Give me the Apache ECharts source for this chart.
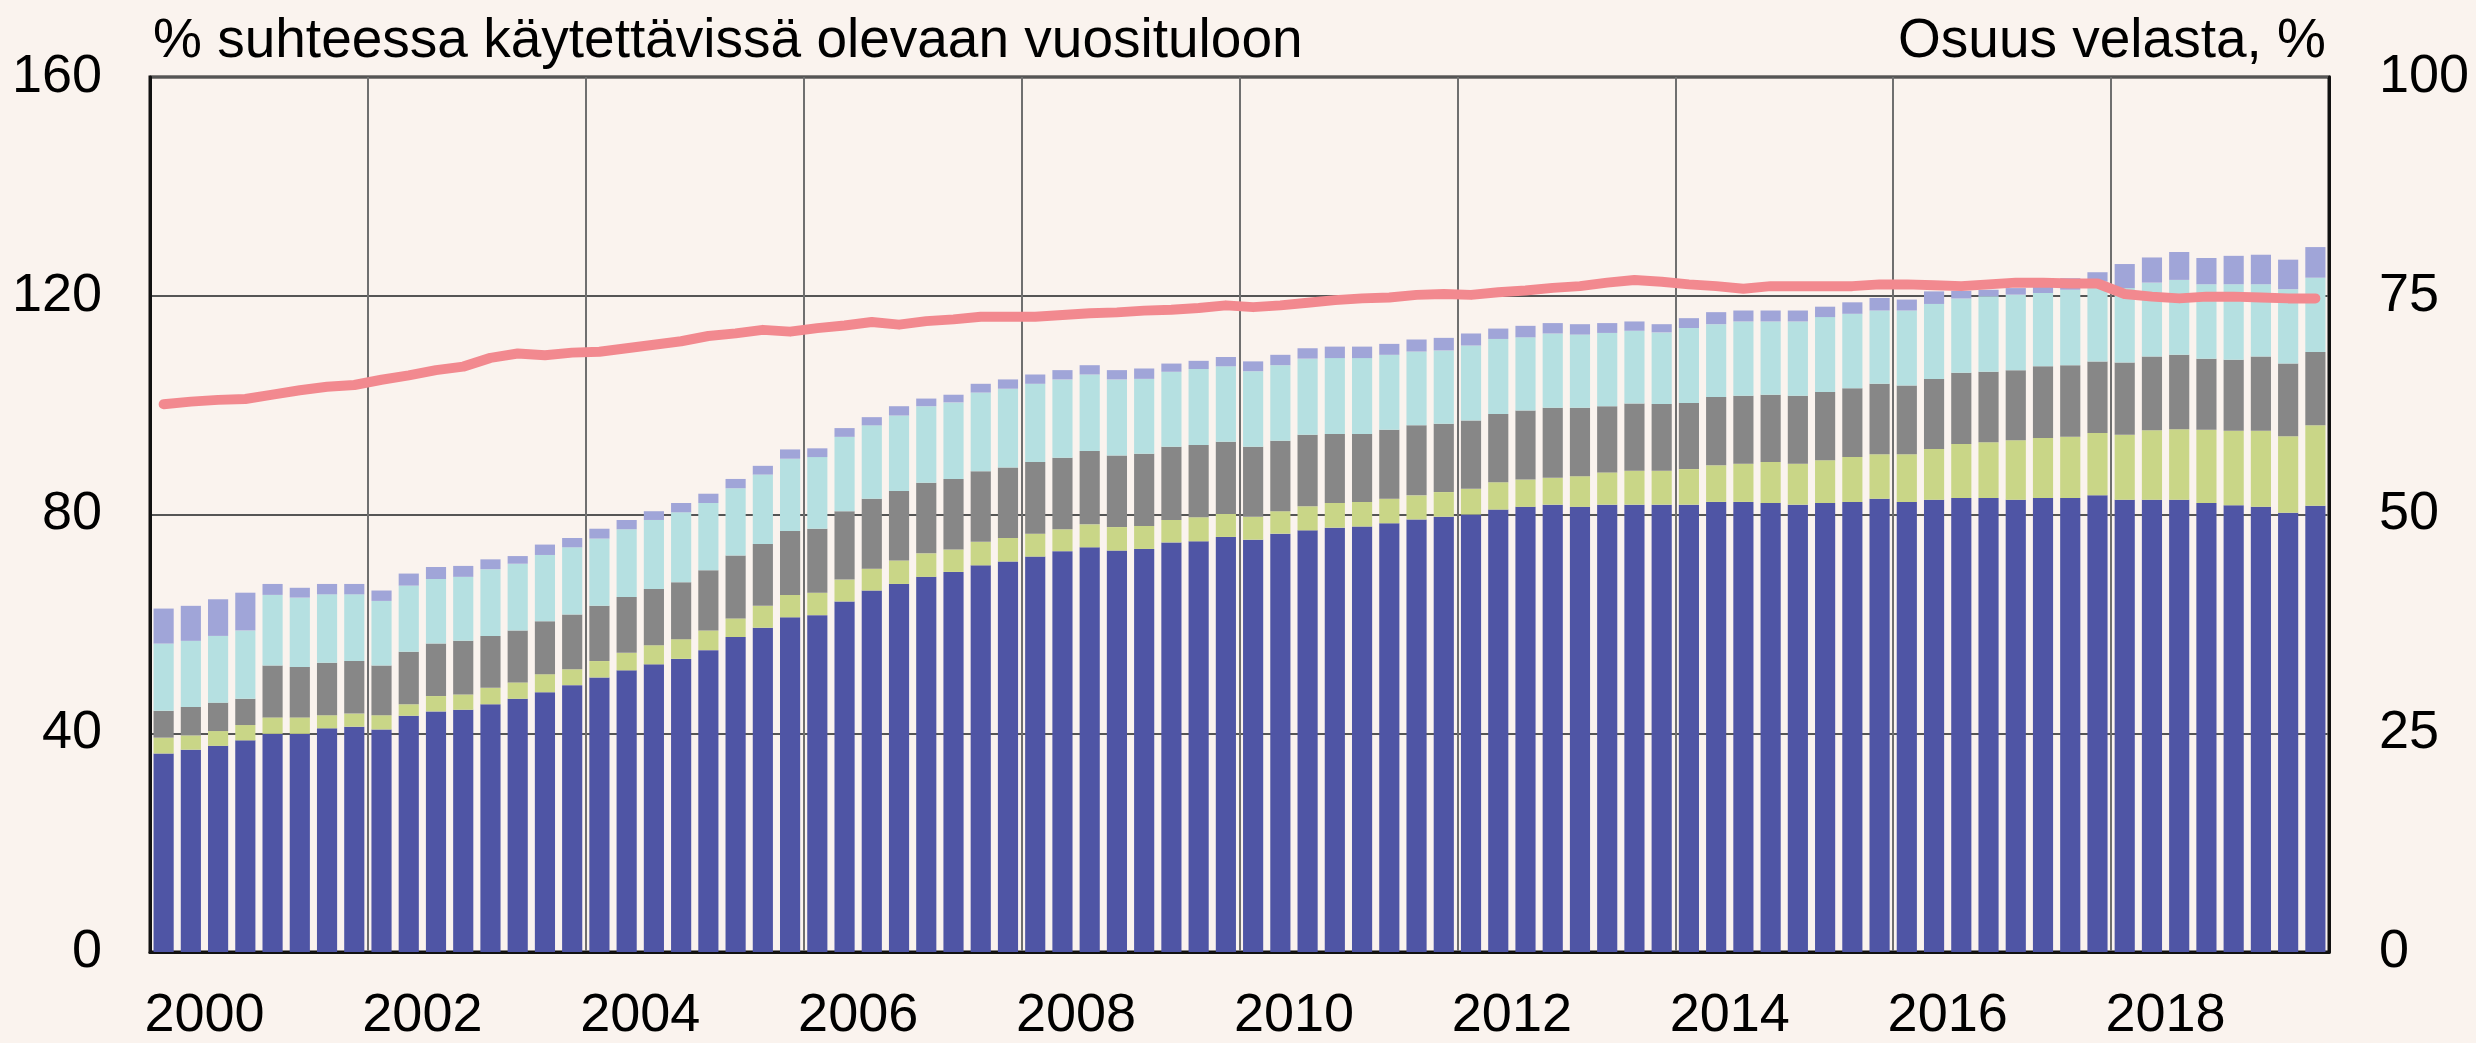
<!DOCTYPE html>
<html>
<head>
<meta charset="utf-8">
<script src="https://cdn.jsdelivr.net/npm/echarts@6/dist/echarts.min.js"></script>
<style>
  html, body { margin: 0; padding: 0; background: #faf3ee; }
  #chart { width: 2476px; height: 1043px; }
</style>
</head>
<body>
<div id="chart"></div>
<script>
// vuosineljännekset 2000Q1 - 2019Q4
const years = ['2000', '2001', '2002', '2003', '2004', '2005', '2006', '2007', '2008', '2009',
  '2010', '2011', '2012', '2013', '2014', '2015', '2016', '2017', '2018', '2019']
const quarters = []
years.forEach(y => { for (let q = 1; q <= 4; q++) quarters.push(y + 'Q' + q) })

// pinottujen pylväiden osat, % käytettävissä olevasta vuositulosta (alhaalta ylös)
const darkBlue = [
  36.3, 37.0, 37.7, 38.7, 39.9, 39.9, 40.9, 41.2, 40.7, 43.2, 44.0, 44.3, 45.3, 46.3, 47.5, 48.8,
  50.2, 51.5, 52.6, 53.6, 55.2, 57.6, 59.3, 61.2, 61.6, 64.1, 66.1, 67.3, 68.6, 69.5, 70.7, 71.4,
  72.3, 73.3, 74.0, 73.4, 73.7, 74.9, 75.1, 75.9, 75.4, 76.5, 77.1, 77.6, 77.8, 78.4, 79.1, 79.6,
  80.0, 80.9, 81.4, 81.8, 81.4, 81.8, 81.8, 81.8, 81.8, 82.3, 82.3, 82.1, 81.8, 82.1, 82.3, 82.9,
  82.3, 82.7, 83.0, 83.0, 82.7, 83.0, 83.0, 83.5, 82.7, 82.7, 82.7, 82.1, 81.7, 81.4, 80.3, 81.6
]
const yellowGreen = [
  2.9, 2.6, 2.7, 2.8, 3.0, 3.0, 2.4, 2.4, 2.6, 2.1, 2.8, 2.8, 3.0, 3.0, 3.3, 2.9,
  3.0, 3.2, 3.5, 3.6, 3.6, 3.4, 4.0, 4.1, 4.1, 4.0, 4.0, 4.3, 4.3, 4.1, 4.3, 4.3,
  4.2, 4.0, 4.2, 4.3, 4.2, 4.1, 4.4, 4.2, 4.2, 4.1, 4.4, 4.5, 4.5, 4.5, 4.4, 4.5,
  4.7, 5.0, 5.0, 4.9, 5.6, 5.9, 6.2, 6.2, 6.5, 6.7, 7.0, 7.5, 7.5, 7.8, 8.2, 8.1,
  8.7, 9.3, 9.9, 10.2, 10.9, 11.0, 11.2, 11.4, 11.9, 12.7, 12.9, 13.4, 13.6, 13.9, 14.0, 14.7
]
const grey = [
  4.9, 5.2, 5.2, 4.8, 9.5, 9.2, 9.6, 9.6, 9.1, 9.6, 9.6, 9.8, 9.5, 9.5, 9.7, 10.0,
  10.1, 10.2, 10.3, 10.4, 11.0, 11.5, 11.3, 11.7, 11.7, 12.5, 12.8, 12.7, 12.9, 12.9, 12.9, 12.9,
  13.1, 13.1, 13.4, 13.1, 13.2, 13.4, 13.2, 13.2, 12.8, 12.9, 13.1, 12.6, 12.4, 12.6, 12.8, 12.5,
  12.5, 12.5, 12.6, 12.8, 12.5, 12.1, 12.3, 12.2, 12.1, 12.5, 12.4, 12.3, 12.4, 12.5, 12.6, 12.9,
  12.6, 12.8, 13.0, 12.9, 12.8, 13.1, 13.1, 13.1, 13.2, 13.5, 13.6, 13.0, 13.0, 13.6, 13.3, 13.4
]
const lightCyan = [
  12.3, 12.1, 12.2, 12.5, 12.9, 12.7, 12.5, 12.2, 11.8, 12.1, 11.8, 11.7, 12.2, 12.2, 12.1, 12.3,
  12.3, 12.4, 12.6, 12.8, 12.3, 12.3, 12.7, 13.2, 13.1, 13.6, 13.4, 13.8, 14.0, 14.0, 14.4, 14.4,
  14.3, 14.3, 14.0, 13.9, 13.7, 13.7, 13.9, 13.8, 13.8, 13.8, 13.9, 13.9, 13.9, 13.7, 13.5, 13.4,
  13.7, 13.7, 13.4, 13.6, 13.4, 13.4, 13.3, 13.1, 13.7, 13.3, 13.6, 13.4, 13.6, 13.7, 13.6, 13.4,
  13.7, 13.7, 13.6, 13.8, 13.8, 13.4, 13.8, 14.6, 13.6, 13.5, 13.7, 13.6, 13.8, 13.2, 13.6, 13.6
]
const lavender = [
  6.4, 6.4, 6.7, 6.9, 2.0, 1.8, 1.9, 1.9, 1.9, 2.2, 2.2, 2.0, 1.8, 1.4, 1.9, 1.7,
  1.8, 1.7, 1.6, 1.7, 1.7, 1.7, 1.6, 1.7, 1.6, 1.6, 1.5, 1.7, 1.4, 1.4, 1.6, 1.7,
  1.7, 1.7, 1.7, 1.7, 1.9, 1.5, 1.5, 1.7, 1.8, 1.9, 1.9, 2.1, 2.1, 2.0, 2.2, 2.3,
  2.2, 1.9, 2.1, 1.9, 1.9, 1.8, 1.7, 1.5, 1.8, 2.2, 2.0, 2.0, 2.0, 1.9, 2.1, 2.3,
  2.0, 2.3, 1.4, 1.2, 1.2, 1.2, 2.1, 1.7, 4.4, 4.6, 5.1, 4.8, 5.2, 5.4, 5.4, 5.6
]
// osuus velasta, % (oikea asteikko)
const shareOfDebt = [
  62.6, 62.9, 63.1, 63.2, 63.7, 64.2, 64.6, 64.8, 65.4, 65.9, 66.5, 66.9, 67.9, 68.4, 68.2, 68.5,
  68.6, 69.0, 69.4, 69.8, 70.4, 70.7, 71.1, 70.9, 71.3, 71.6, 72.0, 71.7, 72.1, 72.3, 72.6, 72.6,
  72.6, 72.8, 73.0, 73.1, 73.3, 73.4, 73.6, 73.9, 73.7, 73.9, 74.2, 74.5, 74.7, 74.8, 75.1, 75.2,
  75.1, 75.4, 75.6, 75.9, 76.1, 76.5, 76.8, 76.6, 76.3, 76.1, 75.8, 76.1, 76.1, 76.1, 76.1, 76.3,
  76.3, 76.2, 76.1, 76.3, 76.5, 76.5, 76.4, 76.4, 75.2, 74.9, 74.7, 74.9, 74.9, 74.8, 74.7, 74.7
]

const font = 'Liberation Sans, Arial, sans-serif'
const chart = echarts.init(document.getElementById('chart'))

const stackParts = [
  { name: 'darkBlue', data: darkBlue, color: '#4f55a5' },
  { name: 'yellowGreen', data: yellowGreen, color: '#c9d687' },
  { name: 'grey', data: grey, color: '#878787' },
  { name: 'lightCyan', data: lightCyan, color: '#b5e0e1' },
  { name: 'lavender', data: lavender, color: '#a0a5d8' }
]

const series = stackParts.map(p => ({
  name: p.name,
  type: 'bar',
  stack: 'debt',
  xAxisIndex: 0,
  yAxisIndex: 0,
  barWidth: '74%',
  itemStyle: { color: p.color },
  data: p.data
}))
series.push({
  name: 'shareOfDebt',
  type: 'line',
  xAxisIndex: 0,
  yAxisIndex: 1,
  symbol: 'none',
  z: 5,
  lineStyle: { color: '#f2898f', width: 10, cap: 'round', join: 'round' },
  data: shareOfDebt
})

chart.setOption({
  backgroundColor: '#faf3ee',
  animation: false,
  textStyle: { fontFamily: font },
  title: [
    {
      text: '% suhteessa käytettävissä olevaan vuosituloon',
      left: 148,
      top: 9,
      textStyle: { fontFamily: font, fontSize: 55, fontWeight: 'normal', color: '#000' }
    },
    {
      text: 'Osuus velasta, %',
      right: 145,
      top: 9,
      textStyle: { fontFamily: font, fontSize: 55, fontWeight: 'normal', color: '#000' }
    }
  ],
  grid: {
    left: 150,
    right: 147,
    top: 77,
    bottom: 90,
    show: true,
    backgroundColor: '#faf3ee',
    borderColor: '#111',
    borderWidth: 3
  },
  xAxis: [
    {
      type: 'category',
      data: quarters,
      axisLine: { show: true, lineStyle: { color: '#111', width: 3 } },
      axisTick: { show: false },
      axisLabel: { show: false },
      splitLine: { show: false }
    },
    {
      // vuosiakseli: otsikot vuoden keskelle, pystyviivat joka toisen vuoden alkuun
      type: 'category',
      data: years,
      position: 'bottom',
      axisLine: { show: false },
      axisTick: { show: false },
      axisLabel: {
        interval: (i) => i % 2 === 0,
        margin: 37,
        fontSize: 54,
        color: '#000',
        fontFamily: font
      },
      splitLine: {
        show: true,
        interval: (i) => i % 2 === 0 && i > 0,
        lineStyle: { color: '#6f6f6f', width: 2 }
      }
    }
  ],
  yAxis: [
    {
      type: 'value',
      min: 0,
      max: 160,
      interval: 40,
      axisLine: { show: true, lineStyle: { color: '#111', width: 3 } },
      axisTick: { show: false },
      axisLabel: { fontSize: 54, color: '#000', margin: 48, fontFamily: font },
      splitLine: { show: true, lineStyle: { color: '#555', width: 2 } }
    },
    {
      type: 'value',
      position: 'right',
      min: 0,
      max: 100,
      interval: 25,
      axisLine: { show: true, lineStyle: { color: '#111', width: 3 } },
      axisTick: { show: false },
      axisLabel: { fontSize: 54, color: '#000', margin: 50, fontFamily: font },
      splitLine: { show: false }
    }
  ],
  series: series
})
</script>
</body>
</html>
